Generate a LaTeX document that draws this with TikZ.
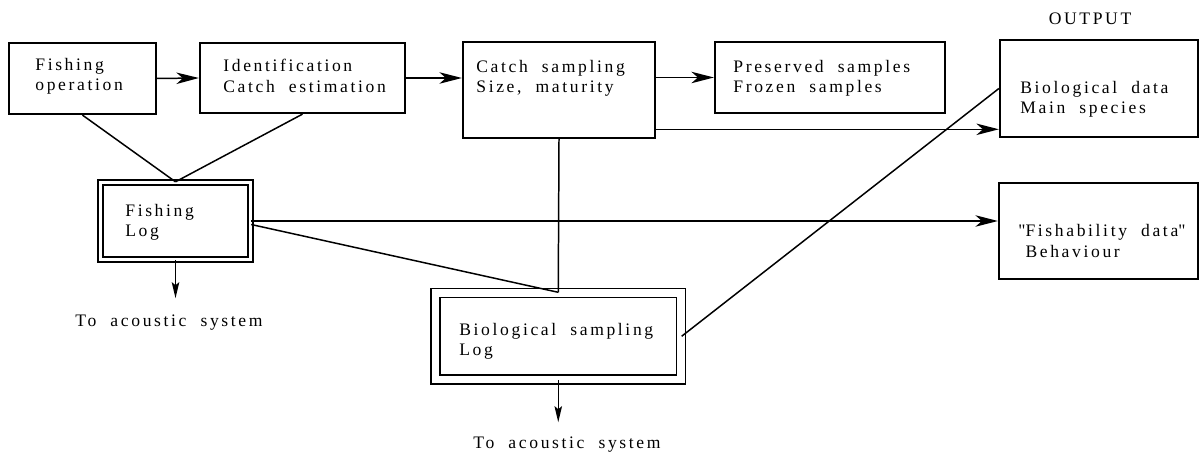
\documentclass[tikz,border=0pt]{standalone}
\usepackage{fontspec}
\setmainfont{Liberation Serif}[LetterSpace=15, WordSpace=2]
\newfontfamily\plainquote{Liberation Serif}
\usepackage{tikz}
\usetikzlibrary{positioning, calc, arrows.meta}

\begin{document}
\begin{tikzpicture}[x=0.02cm, y=-0.02cm,
		StepBox/.style={rectangle, draw, line width=1.3pt, inner sep=0pt},
		LogBox/.style={rectangle, draw, line width=0.8pt, double, double distance=0.07cm, inner sep=0pt},
		BoxText/.style={anchor=west, align=left, inner sep=0pt, font=\fontsize{10}{11.5}\selectfont},
		Flow/.style={line width=0.85pt},
		BigArrow/.style={Flow, -{Stealth[length=4.5mm, width=2.3mm, inset=1.3mm]}},
		SmallArrow/.style={Flow, -{Stealth[length=3.2mm, width=1.5mm, inset=0.6mm]}}]

	\useasboundingbox (0,0) rectangle (1199,452);

	\node[StepBox, minimum width=2.94cm, minimum height=1.42cm] (Op) at (82.5,78.5) {};
	\node[StepBox, minimum width=4.1cm, minimum height=1.4cm] (Ident) at (302.5,78) {};
	\node[StepBox, minimum width=3.84cm, minimum height=1.92cm] (Catch) at (559,90) {};
	\node[StepBox, minimum width=4.6cm, minimum height=1.42cm] (Pres) at (830,77.5) {};
	\node[StepBox, minimum width=3.96cm, minimum height=1.94cm] (BioData) at (1099,88.5) {};
	\node[StepBox, minimum width=3.98cm, minimum height=1.92cm] (Fishab) at (1098.5,231) {};
	\node[LogBox, minimum width=3.0cm, minimum height=1.54cm] (FLog) at (175.5,221) {};
	\node[LogBox, double distance=0.15cm, minimum width=4.91cm, minimum height=1.73cm] (BLog) at (558.25,336.25) {};

	\node[BoxText] (OpText) at (35,76) {Fishing\\operation};
	\node[BoxText] (IdentText) at (223,76) {Identification\\Catch estimation};
	\node[BoxText] (CatchText) at (476,78) {Catch sampling\\Size, maturity};
	\node[BoxText] (PresText) at (733,78) {Preserved samples\\Frozen samples};
	\node[BoxText] (BioDataText) at (1020,99) {Biological data\\Main species};
	\node[BoxText] (FishabText) at (1018,241) {{\plainquote"}Fishability data{\plainquote"}\\\phantom{\plainquote"}Behaviour};
	\node[BoxText] (FLogText) at (125,222) {Fishing\\Log};
	\node[BoxText] (BLogText) at (459,341) {Biological sampling\\Log};
	\node[BoxText, anchor=center] (Output) at (1090,19) {OUTPUT};
	\node[BoxText, anchor=center] (ToAcA) at (169,323) {To acoustic system};
	\node[BoxText, anchor=center] (ToAcB) at (567,445) {To acoustic system};

	\coordinate (CatchOut) at ($(Catch.south east)!0.1!(Catch.north east)$);
	\coordinate (FLogOut) at ($(FLog.south)+(0,38)$);
	\coordinate (BLogOut) at ($(BLog.south)+(0,42)$);

	\draw[BigArrow] (Op.east) -- (Ident.west);
	\draw[BigArrow] (Ident.east) -- (Ident.east -| Catch.west);
	\draw[BigArrow] (Catch.east |- Pres.west) -- (Pres.west);
	\draw[BigArrow] (CatchOut) -- (CatchOut -| BioData.west);
	\draw[Flow] (Op.south) -- (FLog.north);
	\draw[Flow] (Ident.south) -- (FLog.north);
	\draw[BigArrow] (FLog.east) -- (FLog.east -| Fishab.west);
	\draw[Flow] ([yshift=-2pt]FLog.east) -- (BLog.north);
	\draw[Flow] (Catch.south) -- (BLog.north);
	\draw[Flow] (BLog.east) -- (BioData.west);
	\draw[SmallArrow] (FLog.south) -- (FLogOut);
	\draw[SmallArrow] (BLog.south) -- (BLogOut);
\end{tikzpicture}
\end{document}
